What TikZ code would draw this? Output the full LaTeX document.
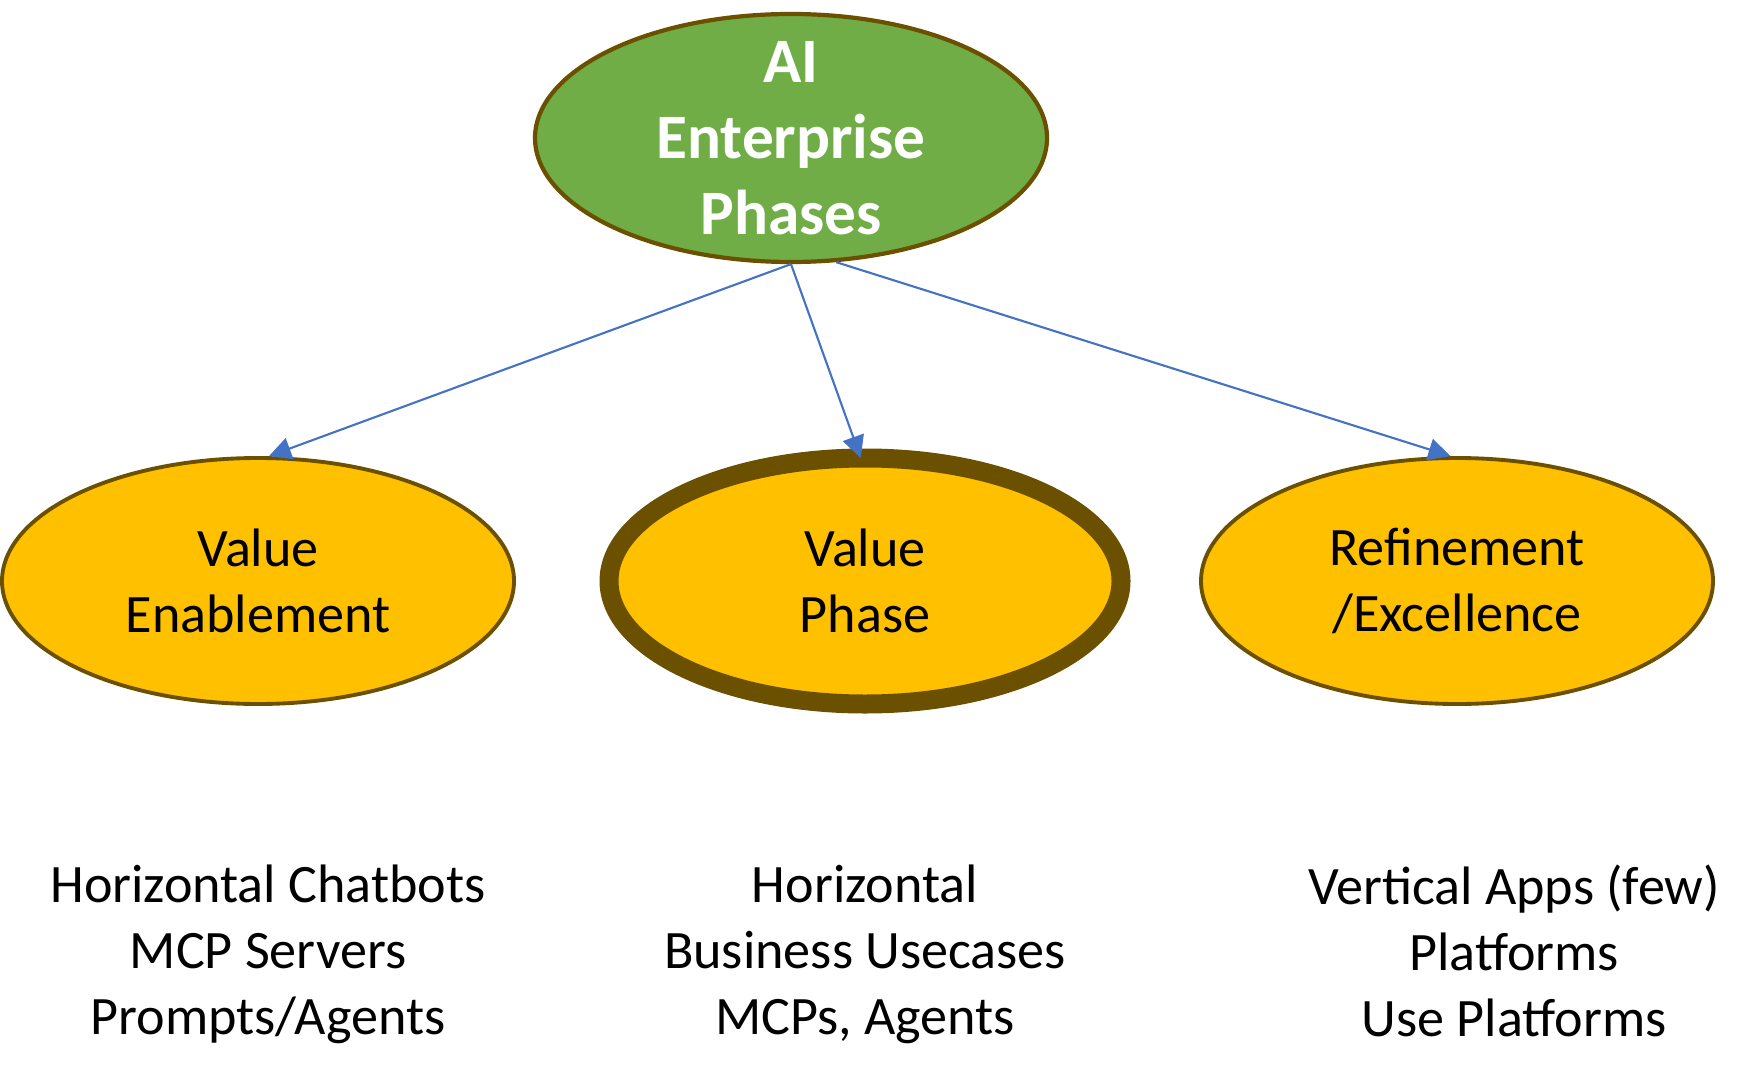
\documentclass[tikz,border=0pt]{standalone}
\usepackage{fontspec}
\setmainfont{Carlito}
\usepackage{tikz}
\usetikzlibrary{shapes.geometric,arrows.meta}
\definecolor{phaseborder}{HTML}{6B5000}
\definecolor{rootgreen}{HTML}{70AD47}
\definecolor{phaseyellow}{HTML}{FFC000}
\definecolor{linkblue}{HTML}{4472C4}
\tikzset{
  rootphase/.style={ellipse, draw=phaseborder, fill=rootgreen, line width=1.2pt,
    minimum width=5.12cm, minimum height=2.48cm, inner sep=0pt},
  phase/.style={ellipse, draw=phaseborder, fill=phaseyellow, line width=1.1pt,
    minimum width=5.12cm, minimum height=2.46cm, inner sep=0pt},
  mainphase/.style={phase, line width=0.19cm, outer sep=0pt},
  roottext/.style={align=center, text=white, font=\fontsize{18}{21.6}\selectfont\bfseries},
  phasetext/.style={align=center, font=\fontsize{15.4}{18.8}\selectfont},
  notetext/.style={align=center, font=\fontsize{15.4}{18.8}\selectfont},
  link/.style={draw=linkblue, line width=0.6pt, -{Triangle[length=0.22cm,width=0.22cm]}}
}
\begin{document}
\begin{tikzpicture}
        \useasboundingbox (0, 0) rectangle (17.59, 10.82);
        \node[rootphase, label={[roottext]center:AI\\Enterprise\\Phases}] (AI) at (7.91, 9.44) {};
        \node[phase, label={[phasetext]center:Value\\Enablement}] (P1) at (2.58, 5.01) {};
        \node[mainphase, label={[phasetext]center:Value\\Phase}] (P2) at (8.65, 5.01) {};
        \node[phase, label={[phasetext]center:Refinement\\/Excellence}] (P3) at (14.57, 5.01) {};
        \node[notetext] (N1) at (2.68, 1.28) {Horizontal Chatbots\\MCP Servers\\Prompts/Agents};
        \node[notetext] (N2) at (8.65, 1.28) {Horizontal\\Business Usecases\\MCPs, Agents};
        \node[notetext] (N3) at (15.14, 1.31) {Vertical Apps (few)\\Platforms\\Use Platforms};
        \draw[link] (AI.south) to (P1.85);
        \draw[link] (AI.south) to (P2.92);
        \draw[link] (AI.-70) to (P3.93);
      \end{tikzpicture}
\end{document}
